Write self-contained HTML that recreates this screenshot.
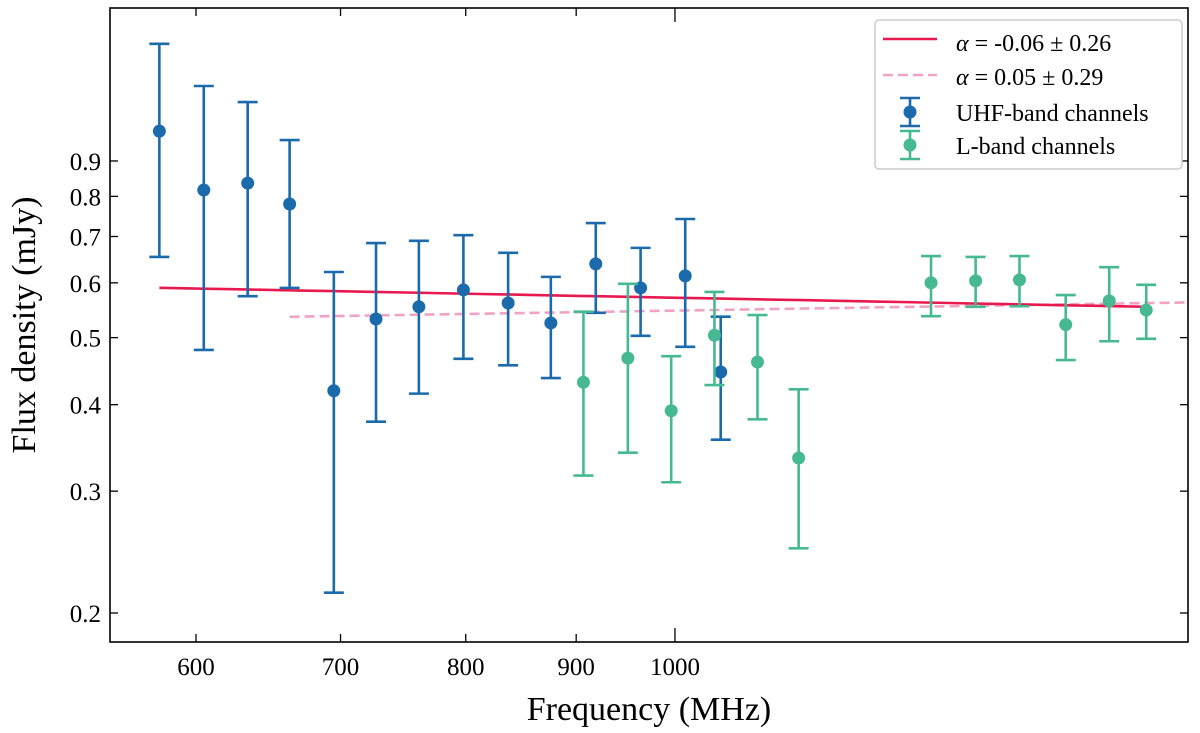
<!DOCTYPE html>
<html><head><meta charset="utf-8"><style>
body{margin:0;background:#fff}
svg{display:block;font-family:"Liberation Serif",serif}
</style></head><body>
<svg id="chart" width="1200" height="733"></svg>
<script>
const uhfFreq=[577,605,634,663,695,727,761,798,837,876,919,964,1011,1050];
const uhfFlux=[0.994,0.817,0.836,0.780,0.419,0.532,0.554,0.586,0.561,0.525,0.639,0.590,0.614,0.446];
const uhfHi=[1.329,1.155,1.095,0.965,0.622,0.685,0.690,0.703,0.663,0.612,0.732,0.674,0.742,0.536];
const uhfLo=[0.654,0.480,0.574,0.590,0.214,0.378,0.415,0.466,0.456,0.437,0.543,0.503,0.485,0.356];
const lFreq=[907,951,996,1043,1092,1141,1314,1378,1444,1517,1589,1653];
const lFlux=[0.431,0.467,0.392,0.504,0.461,0.335,0.600,0.604,0.606,0.522,0.565,0.548];
const lHi=[0.545,0.598,0.470,0.582,0.539,0.421,0.656,0.654,0.656,0.576,0.632,0.596];
const lLo=[0.316,0.341,0.309,0.427,0.381,0.248,0.537,0.554,0.555,0.464,0.494,0.498];
const fitRedAlpha=-0.06, fitRedAmp=0.571, fitRedRange=[577,1653];
const fitPinkAlpha=0.05, fitPinkAmp=0.547, fitPinkRange=[663,1728];
const xTicks=[600,700,800,900,1000];
const yTicks=[0.2,0.3,0.4,0.5,0.6,0.7,0.8,0.9];

const L=110,R=1188,T=8,B=642;
const X=f=>196+2159*Math.log10(f/600);
const Y=v=>613-692*Math.log10(v/0.2);
const NS="http://www.w3.org/2000/svg";
const svg=document.getElementById('chart');
function el(tag,attrs,parent){const e=document.createElementNS(NS,tag);for(const k in attrs)e.setAttribute(k,attrs[k]);(parent||svg).appendChild(e);return e;}

xTicks.forEach(t=>{
  const x=X(t), len=t===1000?14:8;
  const g=el('g',{});
  
  
  el('line',{x1:x,x2:x,y1:B,y2:B-len,stroke:'#000','stroke-width':1.3},g);
  el('line',{x1:x,x2:x,y1:T,y2:T+len,stroke:'#000','stroke-width':1.3},g);
  const tx=el('text',{x:x,y:B+33,'text-anchor':'middle','font-size':25},g);tx.textContent=t;
});
yTicks.forEach(t=>{
  const y=Y(t);
  const g=el('g',{});
  
  
  el('line',{x1:L,x2:L+8,y1:y,y2:y,stroke:'#000','stroke-width':1.3},g);
  el('line',{x1:R,x2:R-8,y1:y,y2:y,stroke:'#000','stroke-width':1.3},g);
  const tx=el('text',{x:L-9,y:y+9,'text-anchor':'end','font-size':25},g);tx.textContent=t.toFixed(1);
});

function fitLine(amp,alpha,range,attrs,name){
  const pts=[];for(let i=0;i<=40;i++){const f=range[0]*Math.pow(range[1]/range[0],i/40);pts.push(X(f).toFixed(1)+','+Y(amp*Math.pow(f/1000,alpha)).toFixed(1));}
  const p=el('polyline',Object.assign({points:pts.join(' '),fill:'none'},attrs));
  
  
}
fitLine(fitPinkAmp,fitPinkAlpha,fitPinkRange,{stroke:'#f0a3c4','stroke-width':2.6,'stroke-dasharray':'10,5'},'fit-line-combined');
fitLine(fitRedAmp,fitRedAlpha,fitRedRange,{stroke:'#e8194f','stroke-width':2.6},'fit-line-uhf');

function series(fr,fl,hi,lo,color,name){
  fr.forEach((f,i)=>{
    const g=el('g',{});
    
    
    const x=X(f);
    el('line',{x1:x,x2:x,y1:Y(hi[i]),y2:Y(lo[i]),stroke:color,'stroke-width':2.6},g);
    el('line',{x1:x-10,x2:x+10,y1:Y(hi[i]),y2:Y(hi[i]),stroke:color,'stroke-width':2.6},g);
    el('line',{x1:x-10,x2:x+10,y1:Y(lo[i]),y2:Y(lo[i]),stroke:color,'stroke-width':2.6},g);
    el('circle',{cx:x,cy:Y(fl[i]),r:6.5,fill:color},g);
  });
}
series(uhfFreq,uhfFlux,uhfHi,uhfLo,'#1b6aac','uhf');
series(lFreq,lFlux,lHi,lLo,'#46b993','lband');

const fr=el('rect',{x:L,y:T,width:R-L,height:B-T,fill:'none',stroke:'#000','stroke-width':1.6});


let t=el('text',{x:649,y:720,'text-anchor':'middle','font-size':34});t.textContent='Frequency (MHz)';

t=el('text',{x:0,y:0,'text-anchor':'middle','font-size':34,transform:'translate(35,325) rotate(-90)'});t.textContent='Flux density (mJy)';


const lg=el('g',{});

el('rect',{x:875,y:20,width:307,height:149,rx:4,fill:'#fff',stroke:'#ccc','stroke-width':1.5},lg);
el('line',{x1:883,x2:937,y1:39,y2:39,stroke:'#e8194f','stroke-width':2.6},lg);
el('line',{x1:883,x2:937,y1:75,y2:75,stroke:'#f0a3c4','stroke-width':2.6,'stroke-dasharray':'10,5'},lg);
[[112,'#1b6aac'],[145,'#46b993']].forEach(([y,c])=>{
  el('line',{x1:910,x2:910,y1:y-14,y2:y+14,stroke:c,'stroke-width':2.6},lg);
  el('line',{x1:900,x2:920,y1:y-14,y2:y-14,stroke:c,'stroke-width':2.6},lg);
  el('line',{x1:900,x2:920,y1:y+14,y2:y+14,stroke:c,'stroke-width':2.6},lg);
  el('circle',{cx:910,cy:y,r:6.5,fill:c},lg);
});
const labels=[[51,'<tspan font-style="italic">α</tspan> = -0.06 ± 0.26','legend-entry-uhf-fit'],[85,'<tspan font-style="italic">α</tspan> = 0.05 ± 0.29','legend-entry-combined-fit'],[121,'UHF-band channels','legend-entry-uhf'],[154,'L-band channels','legend-entry-lband']];
labels.forEach(([y,s,n])=>{const e=el('text',{x:956,y:y,'font-size':24},lg);e.innerHTML=s;});
</script>
</body></html>
